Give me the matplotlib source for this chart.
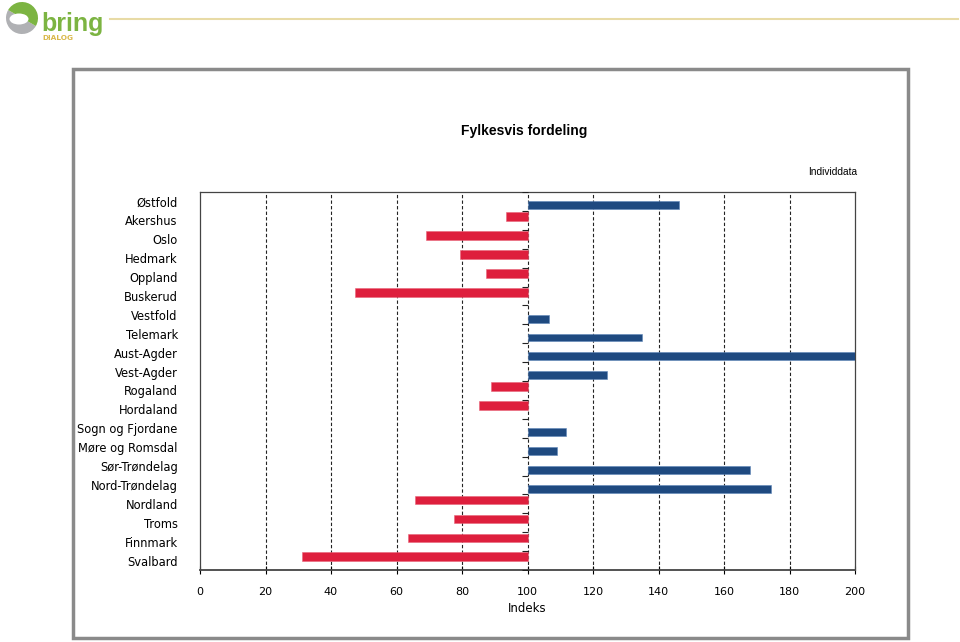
import matplotlib
matplotlib.use("Agg")
import matplotlib.pyplot as plt
from matplotlib.patches import Rectangle, Wedge, Ellipse
import numpy as np

categories = ["Østfold", "Akershus", "Oslo", "Hedmark", "Oppland", "Buskerud",
              "Vestfold", "Telemark", "Aust-Agder", "Vest-Agder", "Rogaland",
              "Hordaland", "Sogn og Fjordane", "Møre og Romsdal", "Sør-Trøndelag",
              "Nord-Trøndelag", "Nordland", "Troms", "Finnmark", "Svalbard"]
values = [146.3, 93.4, 69.0, 79.4, 87.3, 47.3, 106.6, 135.0, 200.5, 124.3,
          88.9, 85.2, 111.8, 109.0, 167.9, 174.4, 65.6, 77.6, 63.5, 31.1]
baseline = 100
x_ticks = [0, 20, 40, 60, 80, 100, 120, 140, 160, 180, 200]
title = "Fylkesvis fordeling"
subtitle = "Individdata"
xlabel = "Indeks"

BLUE = "#1f4a80"
RED = "#de1f3d"

fig = plt.figure(figsize=(9.6, 6.42), dpi=100)

# decoration layer in pixel coordinates (y grows downward)
deco = fig.add_axes([0, 0, 1, 1], zorder=0)
deco.set_xlim(0, 960)
deco.set_ylim(642, 0)
deco.axis("off")
deco.add_patch(Rectangle((73, 69), 835, 569, fill=False, edgecolor="#8a8a8a", linewidth=2.5))
# logo: green top-right, gray bottom-left, white inner ellipse
deco.add_patch(Wedge((22, 18), 16, 30, 210, facecolor="#b0b1b4", edgecolor="none"))
deco.add_patch(Wedge((22, 18), 16, -150, 30, facecolor="#7cb442", edgecolor="none"))
deco.add_patch(Ellipse((19, 19), 19, 11, facecolor="white", edgecolor="none"))
deco.text(41, 31, "bring", color="#7cb442", fontsize=18, fontweight="bold",
          family="Liberation Sans", va="baseline", ha="left")
deco.text(42, 39.5, "DIALOG", color="#d9b84a", fontsize=5.3, fontweight="bold",
          va="baseline", ha="left")
deco.plot([110, 958], [19, 19], color="#e8dba6", linewidth=1.5)
deco.text(524, 131, title, fontsize=10, fontweight="bold", family="Liberation Sans",
          ha="center", va="center")
deco.text(857, 172, subtitle, fontsize=7.3, family="Liberation Sans",
          ha="right", va="center")

ax = fig.add_axes([200 / 960, 1 - 570 / 642, 655 / 960, 378 / 642], zorder=1)
ax.patch.set_alpha(0)
n = len(categories)
y = np.arange(n)
pos_idx = [i for i, v in enumerate(values) if v >= baseline]
neg_idx = [i for i, v in enumerate(values) if v < baseline]
# clustered two-series layout: positive series sits lower, negative higher
ax.barh([y[i] + 0.2 for i in pos_idx], [values[i] - baseline for i in pos_idx],
        left=baseline, height=0.42, color=BLUE, edgecolor="#5f86b8",
        linewidth=0.4, zorder=3)
ax.barh([y[i] - 0.2 for i in neg_idx], [values[i] - baseline for i in neg_idx],
        left=baseline, height=0.46, color=RED, edgecolor="#e8667a",
        linewidth=0.4, zorder=3)
ax.set_ylim(n - 0.5, -0.5)
ax.set_xlim(0, 200)
ax.set_yticks(y)
ax.set_yticklabels(categories, fontsize=8.3, family="DejaVu Sans")
ax.tick_params(axis="y", length=0, pad=16)
ax.set_xticks(x_ticks)
ax.set_xticklabels([str(t) for t in x_ticks], fontsize=8, family="DejaVu Sans")
ax.tick_params(axis="x", direction="inout", length=6, width=0.8, pad=9)
for t in x_ticks[1:-1]:
    ax.axvline(t, color="#222222", linestyle=(0, (3, 2)), linewidth=0.8, zorder=1)
# ticks along the baseline at category boundaries
bounds = np.arange(n + 1) - 0.5
ax.plot([baseline] * len(bounds), bounds, linestyle="none", marker=0,
        markersize=4, color="#222222", markeredgewidth=0.8, zorder=4)
for s in ax.spines.values():
    s.set_color("#444444")
    s.set_linewidth(0.9)
ax.spines["bottom"].set_linewidth(1.3)
ax.set_xlabel(xlabel, fontsize=8.5, family="DejaVu Sans", labelpad=4)

fig.savefig("out.png", dpi=100)
